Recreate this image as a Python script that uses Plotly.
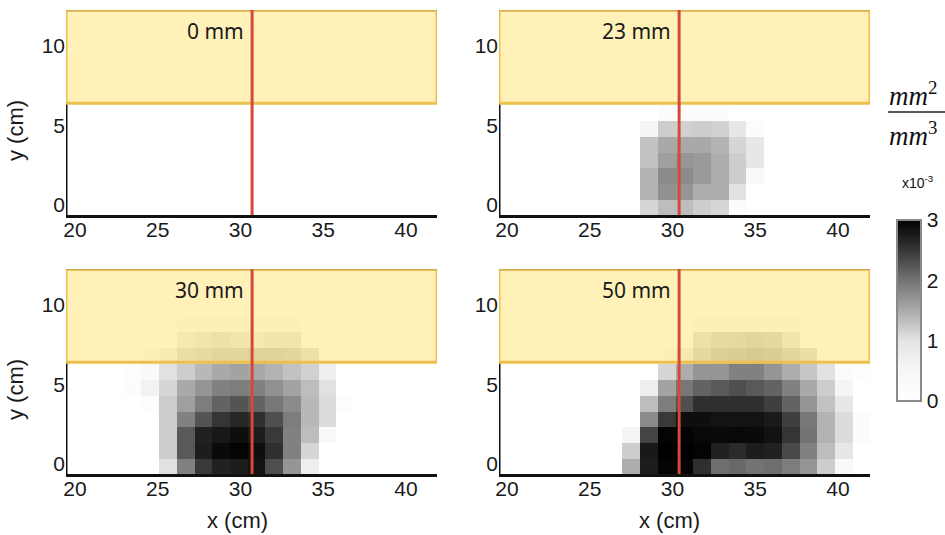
import plotly.graph_objects as go

W, H = 945, 535
panel_labels = ["0 mm", "23 mm", "30 mm", "50 mm"]
x_ticks = [20, 25, 30, 35, 40]
y_ticks = [0, 5, 10]
y_centers = [-0.2, 0.8, 1.8, 2.8, 3.8, 4.8, 5.8, 6.8, 7.8, 8.8]
x_left_centers = [20.27 + 1.07 * i for i in range(21)]
x_right_centers = [20.02 + 1.07 * i for i in range(21)]
red_line_x = [30.7, 30.4, 30.7, 30.4]
band_y = 6.4

z_0mm = [[0.0] * 21 for _ in range(10)]
z_23mm = [
    [0,0,0,0,0,0,0,0,1.12,1.34,1.34,1.20,1.12,0.19,0,0,0,0,0,0,0],
    [0,0,0,0,0,0,0,0,1.42,1.74,1.69,1.47,1.47,1.03,0,0,0,0,0,0,0],
    [0,0,0,0,0,0,0,0,1.42,1.78,1.78,1.65,1.47,1.20,0.37,0,0,0,0,0,0],
    [0,0,0,0,0,0,0,0,1.29,1.60,1.69,1.65,1.47,1.20,0.93,0,0,0,0,0,0],
    [0,0,0,0,0,0,0,0,1.29,1.51,1.51,1.51,1.42,1.12,0.93,0,0,0,0,0,0],
    [0,0,0,0,0,0,0,0,0.56,1.20,1.16,1.20,1.16,0.93,0.19,0,0,0,0,0,0],
    [0,0,0,0,0,0,0,0,0,0.19,0.19,0.19,0.19,0,0,0,0,0,0,0,0],
    [0] * 21,
    [0] * 21,
    [0] * 21,
]
z_30mm = [
    [0,0,0,0,0,1.03,1.87,2.48,2.70,2.74,2.83,2.30,1.69,0.74,0,0,0,0,0,0,0],
    [0,0,0,0,0,1.20,2.22,2.74,2.91,2.96,2.87,2.57,1.87,1.12,0,0,0,0,0,0,0],
    [0,0,0,0,0,1.20,2.22,2.70,2.78,2.87,2.74,2.48,1.87,1.34,0.37,0,0,0,0,0,0],
    [0,0,0,0,0,1.20,1.87,2.26,2.52,2.65,2.57,2.30,1.91,1.38,1.07,0,0,0,0,0,0],
    [0,0,0,0,0.12,1.20,1.60,1.91,2.13,2.26,2.13,1.96,1.78,1.38,1.07,0.15,0,0,0,0,0],
    [0,0,0,0.20,0.60,1.12,1.51,1.69,1.87,1.91,1.87,1.74,1.56,1.34,1.03,0,0,0,0,0,0],
    [0,0,0,0.15,0.40,1.03,1.20,1.38,1.51,1.56,1.51,1.42,1.29,1.16,0.74,0,0,0,0,0,0],
    [0,0,0,0.10,0.20,0.56,1.07,1.12,1.20,1.20,1.25,1.25,1.20,1.03,0,0,0,0,0,0,0],
    [0,0,0,0,0,0,0.74,0.93,1.03,0.93,0.74,0.93,0.93,0,0,0,0,0,0,0,0],
    [0,0,0,0,0,0,0.19,0.19,0.19,0.19,0.19,0.19,0.19,0,0,0,0,0,0,0,0],
]
z_50mm = [
    [0,0,0,0,0,0,0,1.47,2.74,2.96,2.96,2.57,2.04,2.09,2.00,2.04,1.91,1.69,1.20,0.37,0],
    [0,0,0,0,0,0,0,1.20,2.78,3.00,3.00,2.96,2.70,2.61,2.74,2.70,2.35,1.87,1.34,0.93,0],
    [0,0,0,0,0,0,0,0.56,2.39,2.96,2.97,2.93,2.91,2.93,2.91,2.84,2.52,2.00,1.42,1.07,0.19],
    [0,0,0,0,0,0,0,0,1.78,2.48,2.87,2.87,2.83,2.83,2.83,2.76,2.43,1.96,1.42,1.07,0.19],
    [0,0,0,0,0,0,0,0,1.34,1.91,2.30,2.57,2.57,2.57,2.57,2.43,2.13,1.69,1.29,0.93,0],
    [0,0,0,0,0,0,0,0,0.74,1.56,1.96,2.13,2.22,2.30,2.22,2.13,1.87,1.51,1.20,0.56,0],
    [0,0,0,0,0,0,0,0,0,1.12,1.47,1.69,1.69,1.87,1.87,1.69,1.47,1.25,1.03,0.26,0.10],
    [0,0,0,0,0,0,0,0,0,0.19,0.74,1.16,1.29,1.34,1.38,1.34,1.20,1.07,0,0,0],
    [0,0,0,0,0,0,0,0,0,0,0,1.03,1.12,1.16,1.20,1.16,0.93,0,0,0,0],
    [0,0,0,0,0,0,0,0,0,0,0,0.19,0.19,0.19,0.19,0.19,0.19,0,0,0,0],
]
panels_z = [z_0mm, z_23mm, z_30mm, z_50mm]
colorbar_ticks = [0, 1, 2, 3]

gray_scale = [
    [0.0, "rgb(255,255,255)"],
    [1 / 6, "rgb(247,247,247)"],
    [1 / 3, "rgb(228,228,228)"],
    [1 / 2, "rgb(170,170,170)"],
    [2 / 3, "rgb(115,115,115)"],
    [5 / 6, "rgb(55,55,55)"],
    [1.0, "rgb(0,0,0)"],
]

# pixel boxes: left, right, top, bottom
boxes = [(66, 437, 10, 215), (499, 870, 10, 215), (66, 437, 269, 474), (499, 870, 269, 474)]
x_zero_px = [75, 507, 75, 507]
PX_X, PX_Y = 16.55, 15.9
y_zero_px = [205, 205, 464, 464]

fig = go.Figure()
TICK = dict(family="Liberation Sans", size=21, color="#1a1a1a")
for i, (l, r, t, b) in enumerate(boxes):
    s = "" if i == 0 else str(i + 1)
    xr = [20 + (l - x_zero_px[i]) / PX_X, 20 + (r - x_zero_px[i]) / PX_X]
    yr = [(y_zero_px[i] - b) / PX_Y, (y_zero_px[i] - t) / PX_Y]
    centers = x_left_centers if i % 2 == 0 else x_right_centers
    tr = dict(
        z=panels_z[i], x=centers, y=y_centers, xaxis="x" + s, yaxis="y" + s,
        zmin=0, zmax=3, colorscale=gray_scale, showscale=False, hoverinfo="skip",
    )
    if i == 0:
        tr.update(
            showscale=True,
            colorbar=dict(
                x=897 / W, xanchor="left", thickness=24, thicknessmode="pixels",
                y=1 - 401 / H, yanchor="bottom", len=181, lenmode="pixels",
                outlinecolor="#8a8a8a", outlinewidth=2, tickvals=colorbar_ticks,
                ticks="", ticklabelposition="outside", tickfont=TICK, xpad=0, ypad=0,
            ),
        )
    fig.add_trace(go.Heatmap(**tr))
    fig.update_layout({
        "xaxis" + s: dict(
            domain=[l / W, r / W], range=xr, tickvals=x_ticks, ticks="", showgrid=False,
            zeroline=False, showline=True, linecolor="#111", linewidth=3, tickfont=TICK,
            ticklabelstandoff=-6, anchor="y" + s,
        ),
        "yaxis" + s: dict(
            domain=[1 - b / H, 1 - t / H], range=yr, tickvals=y_ticks, ticks="", showgrid=False,
            zeroline=False, showline=False, tickfont=TICK, anchor="x" + s,
        ),
    })
    xref, yref = "x" + s, "y" + s
    fig.add_shape(type="line", xref=xref, yref=yref, x0=xr[0], x1=xr[0], y0=yr[0], y1=band_y,
                  line=dict(color="#111", width=3), layer="above")
    fig.add_shape(type="rect", xref=xref, yref=yref, x0=xr[0], x1=xr[1], y0=band_y, y1=yr[1],
                  fillcolor="rgba(255,224,97,0.45)", line=dict(color="#ecc04a", width=3), layer="above")
    fig.add_shape(type="line", xref=xref, yref=yref, x0=xr[0], x1=xr[1], y0=yr[1], y1=yr[1],
                  line=dict(color="#d6ac4c", width=3), layer="above")
    fig.add_shape(type="line", xref=xref, yref=yref, x0=red_line_x[i], x1=red_line_x[i], y0=yr[0], y1=yr[1],
                  line=dict(color="#d6483c", width=3), layer="above")
    fig.add_annotation(xref=xref, yref=yref, x=red_line_x[i] - 0.35, y=yr[1] - 1.3, text=panel_labels[i],
                       showarrow=False, xanchor="right", yanchor="middle",
                       font=dict(family="Noto Sans", size=21, color="#1a1a1a"))

LABEL = dict(family="Liberation Sans", size=22, color="#1a1a1a")
for py in (131, 390):
    fig.add_annotation(xref="paper", yref="paper", x=15 / W, y=1 - py / H, text="y (cm)", textangle=-90,
                       showarrow=False, font=LABEL, xanchor="center", yanchor="middle")
for px in (238, 669):
    fig.add_annotation(xref="paper", yref="paper", x=px / W, y=1 - 520 / H, text="x (cm)",
                       showarrow=False, font=LABEL, xanchor="center", yanchor="middle")

SERIF = dict(family="Liberation Serif", size=27, color="#111")
fig.add_annotation(xref="paper", yref="paper", x=887 / W, y=1 - 75 / H, text="<i>mm</i><sup>2</sup>",
                   showarrow=False, font=SERIF, xanchor="left", yanchor="top")
fig.add_annotation(xref="paper", yref="paper", x=887 / W, y=1 - 115 / H, text="<i>mm</i><sup>3</sup>",
                   showarrow=False, font=SERIF, xanchor="left", yanchor="top")
fig.add_annotation(xref="paper", yref="paper", x=918 / W, y=1 - 182 / H, text="x10<sup>-3</sup>",
                   showarrow=False, font=dict(family="Liberation Sans", size=14, color="#111"),
                   xanchor="center", yanchor="middle")
fig.add_shape(type="line", xref="paper", yref="paper", x0=888 / W, x1=945 / W, y0=1 - 112 / H, y1=1 - 112 / H,
              line=dict(color="#222", width=1.5))

fig.update_layout(width=W, height=H, margin=dict(l=0, r=0, t=0, b=0, autoexpand=False), autosize=False,
                  paper_bgcolor="white", plot_bgcolor="white", showlegend=False)
fig.write_html("out.html", config={"displayModeBar": False},
               post_script="document.body.style.margin='0';")
